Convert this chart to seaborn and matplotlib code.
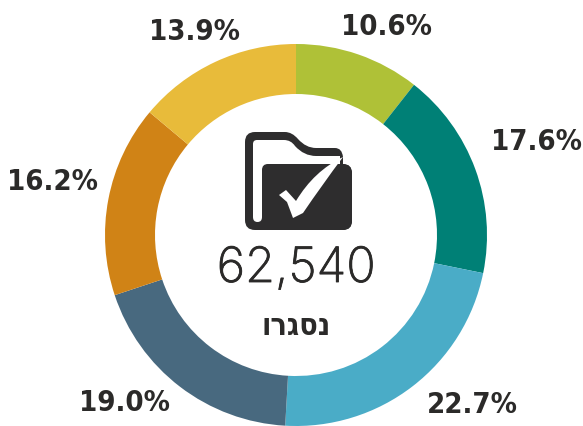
import matplotlib.pyplot as plt
import matplotlib.patheffects as pe
import seaborn as sns
from matplotlib.patches import FancyBboxPatch, PathPatch
from matplotlib.path import Path as MplPath

sns.set_theme(style='white')
plt.rcParams['font.family'] = ['Liberation Sans', 'DejaVu Sans']

# Datos del anillo, en sentido horario desde arriba
shares = [10.6, 17.6, 22.7, 19.0, 16.2, 13.9]
colors = ['#afc137', '#008076', '#4aacc7', '#48697f', '#d08316', '#e8bb3a']
labels = ['10.6%', '17.6%', '22.7%', '19.0%', '16.2%', '13.9%']
total_text = '62,540'
caption = 'נסגרו'

W, H = 583, 427
fig = plt.figure(figsize=(W / 100, H / 100), dpi=100)

# Anillo en sus propios ejes, colocados en pixeles
cx, cy, R = 296, 236, 191
ax_pie = fig.add_axes([(cx - R) / W, 1 - (cy + R) / H, 2 * R / W, 2 * R / H])
ax_pie.pie(shares, colors=colors, startangle=90, counterclock=False, radius=1,
           wedgeprops=dict(width=50 / R, linewidth=0))
ax_pie.set_xlim(-1, 1)
ax_pie.set_ylim(-1, 1)

# Capa superior en coordenadas de pixel
ax = fig.add_axes([0, 0, 1, 1])
ax.set_xlim(0, W)
ax.set_ylim(H, 0)
ax.axis('off')
ax.patch.set_alpha(0)

text_color = '#2b2a29'

# Etiquetas de porcentaje
label_pos = [(387, 27), (536, 142), (472, 405), (124, 403), (53, 182), (195, 32)]
for (x, y), t in zip(label_pos, labels):
    ax.text(x, y, t, ha='center', va='center', fontsize=21, fontweight='bold',
            color=text_color, family='DejaVu Sans', stretch='condensed')


def curved(points):
    # M, L y Q en coordenadas de pixel
    verts, codes = [], []
    for p in points:
        if len(p) == 2:
            verts.append(p)
            codes.append(MplPath.LINETO)
        else:
            verts += [p[:2], p[2:]]
            codes += [MplPath.CURVE3, MplPath.CURVE3]
    codes[0] = MplPath.MOVETO
    verts.append(verts[0])
    codes.append(MplPath.CLOSEPOLY)
    return MplPath(verts, codes)


# Icono de carpeta
dark = '#2e2d2e'
outer = [(245, 143), (245, 133, 255, 133), (285, 133), (292, 133, 298, 140),
         (306, 149, 316, 149), (335, 149), (342, 149, 343, 158), (343, 165),
         (342, 165), (352, 165, 352, 175), (352, 221), (352, 231, 342, 231),
         (255, 231), (245, 231, 245, 221)]
inner = [(253, 145), (253, 141, 257, 141), (284, 141), (291, 141, 295, 147),
         (304, 157, 316, 157), (340, 157), (340, 165), (268, 165),
         (262, 165, 262, 171), (262, 218), (262, 223, 257.5, 223),
         (253, 223, 253, 218)]
ax.add_patch(PathPatch(curved(outer), facecolor=dark, linewidth=0))
ax.add_patch(PathPatch(curved(inner), facecolor='white', linewidth=0))
ax.add_patch(FancyBboxPatch((268, 171), 78, 54, boxstyle='round,pad=6,rounding_size=9',
                            facecolor=dark, linewidth=0))

tick = [(279, 196), (286, 191), (296, 202), (314, 172, 343, 158), (322, 186, 303, 214),
        (293, 219), (287, 203)]
ax.add_patch(PathPatch(curved(tick), facecolor='white', linewidth=0))

ax.text(296, 270, total_text, ha='center', va='center', fontsize=35, color=text_color,
        family='Inter', fontweight='light',
        path_effects=[pe.withStroke(linewidth=0.6, foreground=text_color)])
ax.text(296, 327, caption[::-1], ha='center', va='center', fontsize=22,
        fontweight='bold', color=text_color, family='DejaVu Sans', stretch='condensed')

fig.savefig('out.png', dpi=100)
